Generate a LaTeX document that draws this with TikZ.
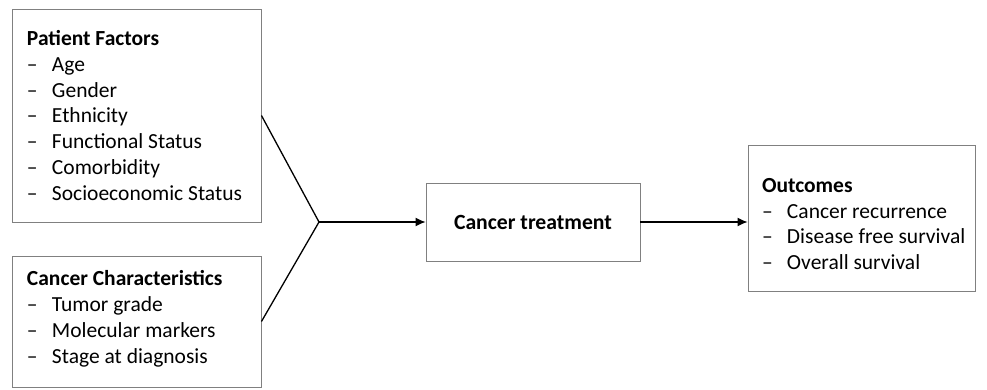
\documentclass[tikz,border=0pt]{standalone}
\usepackage{fontspec}
\setmainfont{Carlito}
\usepackage{tikz}
\usetikzlibrary{arrows.meta,positioning,calc}
\definecolor{boxgray}{RGB}{128,128,128}
\newcommand{\itm}[1]{\makebox[25pt][l]{--}\mbox{#1}}

\begin{document}
\begin{tikzpicture}[x=1pt, y=-1pt,
    factorbox/.style={draw=boxgray, line width=0.9pt, align=flush left,
        inner xsep=15pt, inner ysep=0pt,
        font=\fontsize{21.5}{25.8}\selectfont},
    treatbox/.style={draw=boxgray, line width=0.9pt,
        minimum width=214pt, minimum height=78pt,
        font=\fontsize{21.7}{25}\selectfont\bfseries},
    link/.style={line width=1.3pt},
    arr/.style={line width=1.3pt, -{Latex[length=10pt,width=9pt]}}]
    \useasboundingbox (0,0) rectangle (987,389);

    % Input boxes
    \node[factorbox, text width=219pt, minimum width=249pt, minimum height=213pt]
        (patient) at (136.5,115.5)
        {\textbf{Patient Factors}\\
         \itm{Age}\\
         \itm{Gender}\\
         \itm{Ethnicity}\\
         \itm{Functional Status}\\
         \itm{Comorbidity}\\
         \itm{Socioeconomic Status}};
    \node[factorbox, text width=219pt, minimum width=249pt, minimum height=131pt]
        (cancer) at (136.5,321.5)
        {\textbf{Cancer Characteristics}\\
         \itm{Tumor grade}\\
         \itm{Molecular markers}\\
         \itm{Stage at diagnosis}\rule[-9pt]{0pt}{0pt}};

    % Treatment and outcomes
    \node[treatbox] (treat) at (533,222) {Cancer treatment};
    \node[factorbox, text width=199pt, minimum width=227pt, minimum height=146pt,
        inner xsep=14pt] (outcome) at (861.5,218)
        {\rule{0pt}{26pt}\textbf{Outcomes}\\
         \itm{Cancer recurrence}\\
         \itm{Disease free survival}\\
         \itm{Overall survival}};

    % Connectors
    \coordinate (join) at (319,222);
    \draw[link] (patient.east) -- (join);
    \draw[link] (cancer.east) -- (join);
    \draw[arr] (join) -- (treat.west);
    \draw[arr] (treat.east) -- (treat.east -| outcome.west);
\end{tikzpicture}
\end{document}
